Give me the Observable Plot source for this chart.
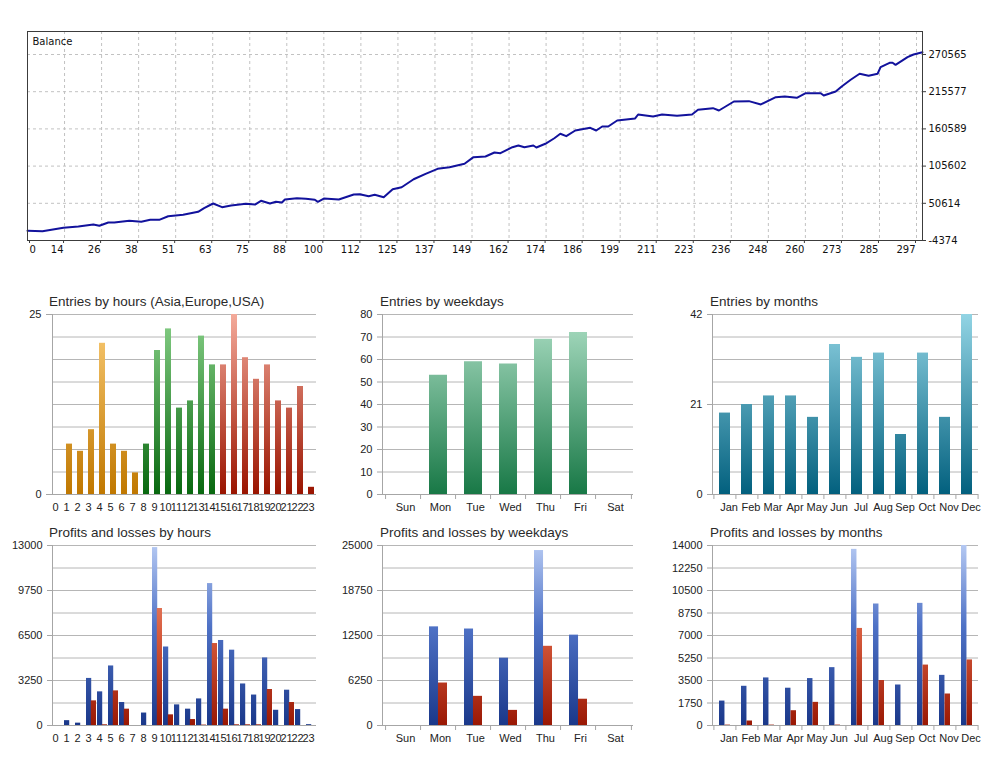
<!DOCTYPE html>
<html><head><meta charset="utf-8">
<script src="https://cdn.jsdelivr.net/npm/d3@7"></script>
<script src="https://cdn.jsdelivr.net/npm/@observablehq/plot@0.6"></script>
<style>
html,body{margin:0;padding:0;background:#fff}
body{width:1000px;height:761px;position:relative;overflow:hidden;font-family:"Liberation Sans",Arial,sans-serif}
.box{position:absolute}
.t{position:absolute;font-size:13.5px;line-height:16px;color:#2a2a2a;white-space:nowrap}
</style></head><body>
<script>
// ---------------- DATA ----------------
const balanceTrade = [0,5,9,12,17,22,24,27,29,34,38,41,44,47,52,57,59,62,65,68,73,76,78,81,83,85,86,90,93,96,97,99,104,109,111,114,116,119,122,125,129,133,137,141,146,149,153,156,158,162,164,166,169,170,173,176,178,180,183,188,190,192,194,197,200,203,204,209,212,217,222,224,229,231,236,241,245,250,253,257,260,265,266,270,272,275,278,281,284,285,288,289,290,294,296,299];
const balanceValue = [10000,9400,12300,14400,16300,19300,17400,22200,22200,24700,23300,26200,26200,31500,33600,38000,43400,50300,44900,47400,49900,48800,54300,50300,52800,51800,56200,58200,57300,55800,52800,57700,56200,63600,64100,61100,63200,59600,71500,74400,86200,94200,101600,104000,109000,118800,119800,125700,124700,133500,136000,133500,136000,133100,138600,146800,153400,149800,158200,162200,158200,164100,164100,173000,174500,176000,181900,178900,181900,179900,181900,188800,191200,187800,201100,201600,196700,207500,208500,206500,213400,213400,210000,215900,223300,233200,242100,239100,242100,251800,258300,258300,255300,266600,270600,274000];
const balanceXLabels = ["0","14","26","38","51","63","75","88","100","112","125","137","149","162","174","186","199","211","223","236","248","260","273","285","297"];
const balanceYTicks = [-4374,50614,105602,160589,215577,270565];

const hours = [0,1,2,3,4,5,6,7,8,9,10,11,12,13,14,15,16,17,18,19,20,21,22,23];
const hourSession = ["Asia","Asia","Asia","Asia","Asia","Asia","Asia","Asia","Europe","Europe","Europe","Europe","Europe","Europe","Europe","USA","USA","USA","USA","USA","USA","USA","USA","USA"];
const entriesHours = [0,7,6,9,21,7,6,3,7,20,23,12,13,22,18,18,25,19,16,18,13,12,15,1];
const profitsHours = [0,350,170,3400,2430,4300,1660,0,900,12850,5670,1490,1180,1920,10250,6140,5440,3000,2200,4880,1100,2550,1150,60];
const lossesHours  = [0,0,0,1780,50,2500,1180,0,0,8450,770,0,430,30,5920,1180,50,50,50,2600,0,1660,0,0];

const weekdays = ["Sun","Mon","Tue","Wed","Thu","Fri","Sat"];
const entriesWeekdays = [0,53,59,58,69,72,0];
const profitsWeekdays = [0,13700,13400,9350,24300,12550,0];
const lossesWeekdays  = [0,5900,4050,2100,11000,3650,0];

const months = ["Jan","Feb","Mar","Apr","May","Jun","Jul","Aug","Sep","Oct","Nov","Dec"];
const entriesMonths = [19,21,23,23,18,35,32,33,14,33,18,42];
const profitsMonths = [1900,3050,3700,2900,3650,4500,13700,9450,3150,9500,3900,14000];
const lossesMonths  = [30,350,30,1150,1800,30,7550,3500,0,4700,2450,5100];

const ticksEntriesHours = [0,25];
const ticksEntriesWeekdays = [0,10,20,30,40,50,60,70,80];
const ticksEntriesMonths = [0,21,42];
const ticksProfitsHours = [0,3250,6500,9750,13000];
const ticksProfitsWeekdays = [0,6250,12500,18750,25000];
const ticksProfitsMonths = [0,1750,3500,5250,7000,8750,10500,12250,14000];

// ---------------- HELPERS ----------------
const NS = "http://www.w3.org/2000/svg";
function addGrads(svg, grads, y1, y2) {
  const defs = document.createElementNS(NS, "defs");
  for (const g of grads) {
    const lg = document.createElementNS(NS, "linearGradient");
    lg.setAttribute("id", g.id);
    lg.setAttribute("gradientUnits", "userSpaceOnUse");
    lg.setAttribute("x1", 0); lg.setAttribute("x2", 0);
    lg.setAttribute("y1", y1); lg.setAttribute("y2", y2);
    for (const [off, col] of g.stops) {
      const s = document.createElementNS(NS, "stop");
      s.setAttribute("offset", off);
      s.setAttribute("stop-color", col);
      lg.appendChild(s);
    }
    defs.appendChild(lg);
  }
  svg.insertBefore(defs, svg.firstChild);
}
function place(el, left, top) {
  const d = document.createElement("div");
  d.className = "box";
  d.style.left = left + "px"; d.style.top = top + "px";
  d.appendChild(el);
  document.body.appendChild(d);
}
function title(text, left, top) {
  const d = document.createElement("div");
  d.className = "t"; d.textContent = text;
  d.style.left = left + "px"; d.style.top = top + "px";
  document.body.appendChild(d);
}
function gridOf(ticks, parts) {
  const max = ticks[ticks.length - 1];
  return d3.range(parts + 1).map(i => max * i / parts);
}

// ---------------- BALANCE ----------------
const balanceData = balanceTrade.map((t, i) => ({t, v: balanceValue[i]}));
const xTickPos = balanceXLabels.map((_, k) => k * 297 / 24);
const labelAt = new Map(xTickPos.map((p, i) => [p, balanceXLabels[i]]));
const bal = Plot.plot({
  width: 1000, height: 262, marginTop: 31, marginBottom: 22, marginLeft: 27, marginRight: 78,
  style: {fontFamily: "DejaVu Sans, sans-serif", fontSize: "10px", color: "#111", background: "transparent", overflow: "visible"},
  x: {domain: [0, 299], axis: null},
  y: {domain: [-4374, 304560], axis: null},
  marks: [
    Plot.ruleX(xTickPos.slice(1), {stroke: "#c2c2c2", strokeDasharray: "3,3"}),
    Plot.ruleY(balanceYTicks.slice(1), {stroke: "#c2c2c2", strokeDasharray: "3,3"}),
    Plot.line(balanceData, {x: "t", y: "v", stroke: "#12129c", strokeWidth: 2}),
    Plot.frame({stroke: "#3c3c3c"}),
    Plot.axisX([xTickPos[0]], {label: null, tickSize: 3, tickPadding: 2, tickFormat: () => balanceXLabels[0], textAnchor: "start", dx: 2, fontSize: 10, stroke: "#3c3c3c"}),
    Plot.axisX(xTickPos.slice(1), {label: null, tickSize: 3, tickPadding: 2, tickFormat: d => labelAt.get(d), textAnchor: "end", dx: -1, fontSize: 10, stroke: "#3c3c3c"}),
    Plot.axisY(balanceYTicks, {label: null, anchor: "right", tickSize: 3, tickPadding: 3, tickFormat: d => String(d), fontSize: 10, stroke: "#3c3c3c"}),
    Plot.text(["Balance"], {text: d => d, frameAnchor: "top-left", dx: 5, dy: 6, fontSize: 10})
  ]
});
place(bal, 0, 0);

// ---------------- BAR PANELS ----------------
function panel(o) {
  const plotW = o.width - o.mL - o.mR, plotH = o.height - o.mT - o.mB;
  const step = plotW / o.domain.length;
  const bw = step * (1 - o.pad);
  const marks = [
    Plot.ruleY(o.grid, {stroke: "#b6b6b6"}),
    ...o.bars(bw),
    Plot.ruleY([0], {stroke: "#a6a6a6", insetLeft: -o.tick}),
    Plot.frame({anchor: "left", stroke: "#a6a6a6"}),
    Plot.axisY(o.yTicks, {label: null, tickSize: o.tick, tickPadding: o.tickPad, stroke: "#a6a6a6", fill: "#222", fontSize: 11, tickFormat: d => String(d)}),
    Plot.axisX(o.domain, {label: null, tickSize: 0, tickPadding: 9, fill: "#222", fontSize: 11, dx: o.labelDx, tickFormat: d => String(d)})
  ];
  if (o.edges) {
    marks.push(Plot.ruleX(o.domain, {x: d => d, dx: -step / 2, stroke: "#a6a6a6", insetTop: plotH, insetBottom: -5}));
    marks.push(Plot.ruleX(o.domain.slice(-1), {x: d => d, dx: step / 2, stroke: "#a6a6a6", insetTop: plotH, insetBottom: -5}));
  }
  const svg = Plot.plot({
    width: o.width, height: o.height,
    marginTop: o.mT, marginBottom: o.mB, marginLeft: o.mL, marginRight: o.mR,
    style: {fontFamily: "Liberation Sans, Arial, sans-serif", fontSize: "11px", color: "#222", background: "transparent", overflow: "visible"},
    x: {type: "band", domain: o.domain, paddingInner: o.pad, paddingOuter: o.pad / 2, align: 0.5, axis: null, label: null},
    y: {domain: o.yDomain, axis: null, label: null},
    marks
  });
  addGrads(svg, o.grads, o.mT, o.height - o.mB);
  place(svg, o.left, o.top);
  title(o.title, o.titleX, o.top - 12);
}

const gBlue = [[0, "#b4c8f2"], [0.45, "#4f72c6"], [1, "#1a388a"]];
const gRed = [[0, "#f6a88e"], [0.5, "#d65a3c"], [1, "#9a1804"]];

const hourData = hours.map((h, i) => ({k: h, v: entriesHours[i], s: hourSession[i], p: profitsHours[i], l: lossesHours[i]}));
const wdData = weekdays.map((k, i) => ({k, v: entriesWeekdays[i], p: profitsWeekdays[i], l: lossesWeekdays[i]}));
const moData = months.map((k, i) => ({k, v: entriesMonths[i], p: profitsMonths[i], l: lossesMonths[i]}));

const common = {height: 209, mT: 8, mB: 21};

panel({...common, left: 0, top: 306, width: 330, mL: 52, mR: 14, title: "Entries by hours (Asia,Europe,USA)", titleX: 49,
  domain: hours, pad: 0.48, yDomain: [0, 25], yTicks: ticksEntriesHours, grid: gridOf(ticksEntriesHours, 8), tick: 6, tickPad: 5, labelDx: -3,
  grads: [{id: "gAsia", stops: [[0, "#fbcd78"], [1, "#c07800"]]}, {id: "gEu", stops: [[0, "#88d088"], [1, "#08680f"]]}, {id: "gUs", stops: [[0, "#f4aa9a"], [1, "#9a1400"]]}],
  bars: () => [
    Plot.barY(hourData.filter(d => d.s === "Asia"), {x: "k", y: "v", fill: "url(#gAsia)"}),
    Plot.barY(hourData.filter(d => d.s === "Europe"), {x: "k", y: "v", fill: "url(#gEu)"}),
    Plot.barY(hourData.filter(d => d.s === "USA"), {x: "k", y: "v", fill: "url(#gUs)"})
  ]});

panel({...common, left: 330, top: 306, width: 320, mL: 52, mR: 17, title: "Entries by weekdays", titleX: 380,
  domain: weekdays, pad: 0.5, yDomain: [0, 80], yTicks: ticksEntriesWeekdays, grid: ticksEntriesWeekdays, tick: 5, tickPad: 5, labelDx: 2, edges: true,
  grads: [{id: "gWd", stops: [[0, "#acdec4"], [1, "#187846"]]}],
  bars: () => [Plot.barY(wdData, {x: "k", y: "v", fill: "url(#gWd)"})]});

panel({...common, left: 660, top: 306, width: 340, mL: 52, mR: 22, title: "Entries by months", titleX: 710,
  domain: months, pad: 0.5, yDomain: [0, 42], yTicks: ticksEntriesMonths, grid: gridOf(ticksEntriesMonths, 8), tick: 5, tickPad: 5, labelDx: 4, edges: true,
  grads: [{id: "gMo", stops: [[0, "#92d4e4"], [1, "#02607e"]]}],
  bars: () => [Plot.barY(moData, {x: "k", y: "v", fill: "url(#gMo)"})]});

panel({...common, left: 0, top: 537, width: 330, mL: 52, mR: 14, title: "Profits and losses by hours", titleX: 49,
  domain: hours, pad: 0.13, yDomain: [0, 13000], yTicks: ticksProfitsHours, grid: gridOf(ticksProfitsHours, 8), tick: 5, tickPad: 5, labelDx: -3,
  grads: [{id: "gB1", stops: gBlue}, {id: "gR1", stops: gRed}],
  bars: bw => [
    Plot.barY(hourData, {x: "k", y: "p", fill: "url(#gB1)", insetRight: bw / 2}),
    Plot.barY(hourData, {x: "k", y: "l", fill: "url(#gR1)", insetLeft: bw / 2})
  ]});

panel({...common, left: 330, top: 537, width: 320, mL: 52, mR: 17, title: "Profits and losses by weekdays", titleX: 380,
  domain: weekdays, pad: 0.5, yDomain: [0, 25000], yTicks: ticksProfitsWeekdays, grid: gridOf(ticksProfitsWeekdays, 8), tick: 5, tickPad: 5, labelDx: 2, edges: true,
  grads: [{id: "gB2", stops: gBlue}, {id: "gR2", stops: gRed}],
  bars: bw => [
    Plot.barY(wdData, {x: "k", y: "p", fill: "url(#gB2)", insetRight: bw / 2}),
    Plot.barY(wdData, {x: "k", y: "l", fill: "url(#gR2)", insetLeft: bw / 2})
  ]});

panel({...common, left: 660, top: 537, width: 340, mL: 52, mR: 22, title: "Profits and losses by months", titleX: 710,
  domain: months, pad: 0.5, yDomain: [0, 14000], yTicks: ticksProfitsMonths, grid: ticksProfitsMonths, tick: 5, tickPad: 5, labelDx: 4, edges: true,
  grads: [{id: "gB3", stops: gBlue}, {id: "gR3", stops: gRed}],
  bars: bw => [
    Plot.barY(moData, {x: "k", y: "p", fill: "url(#gB3)", insetRight: bw / 2}),
    Plot.barY(moData, {x: "k", y: "l", fill: "url(#gR3)", insetLeft: bw / 2})
  ]});
</script>
</body></html>
